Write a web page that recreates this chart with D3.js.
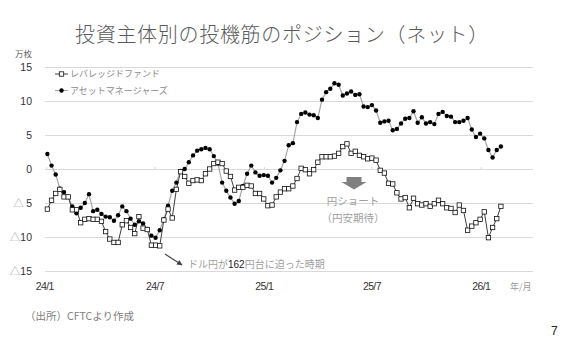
<!DOCTYPE html>
<html>
<head>
<meta charset="utf-8">
<script src="https://cdn.jsdelivr.net/npm/d3@7"></script>
<style>
  body { margin: 0; background: #fff; }
  svg { display: block; }
  .jp { font-family: "Noto Sans CJK JP", "Noto Sans", sans-serif; }
  .num { font-family: "Liberation Sans", Arial, sans-serif; }
</style>
</head>
<body>
<div id="chart"></div>
<script>
var width = 577
var height = 351

// weekly CFTC data, first week 2024/1/2
var startDate = new Date(2024, 0, 2)

// asset managers (filled dots), 万枚
var assetManagers = [
  2.2, 0.5, -0.8, -2.9, -3.4, -4.1, -5.5, -6.5, -5.7, -5.0,
  -3.7, -6.2, -6.0, -6.6, -7.0, -7.1, -7.6, -6.8, -5.5, -6.2,
  -7.3, -8.2, -7.7, -8.0, -8.8, -9.8, -10.1, -9.0, -7.4, -5.4,
  -3.2, -2.0, -0.3, 0.0, 1.0, 2.0, 2.7, 2.9, 3.1, 2.9,
  1.9, 0.8, -2.0, -3.2, -4.2, -5.1, -4.7, -2.5, -0.7, 0.5,
  -0.5, -1.0, -0.9, -1.0, -2.0, -1.3, -0.2, 1.2, 3.5, 3.8,
  6.9, 8.1, 8.3, 8.0, 7.9, 7.5, 10.2, 11.3, 11.8, 12.6,
  12.4, 10.8, 11.1, 11.4, 10.9, 11.0, 9.2, 9.1, 9.4, 8.6,
  6.8, 7.0, 7.1, 5.7, 5.9, 6.7, 7.4, 7.5, 8.5, 6.8,
  7.6, 6.7, 6.9, 6.6, 8.1, 8.4, 7.8, 7.7, 6.9, 6.9,
  7.1, 7.5, 5.8, 4.7, 5.2, 4.5, 2.8, 1.7, 2.8, 3.3
]

// leveraged funds (open squares), 万枚
var leveragedFunds = [
  -5.9, -4.6, -3.6, -3.0, -4.1, -4.1, -6.0, -6.0, -7.9, -7.4,
  -7.3, -7.4, -7.4, -7.7, -9.2, -10.3, -10.8, -10.8, -8.2, -7.6,
  -8.6, -9.5, -7.0, -8.7, -8.9, -11.2, -11.2, -11.3, -7.5, -5.9,
  -7.2, -3.0, -0.4, -1.1, -2.1, -1.7, -1.6, -1.7, -0.7, 0.0,
  0.8, 1.0, 0.8, -0.3, -1.1, -3.1, -2.7, -2.7, -2.4, -2.5,
  -3.6, -3.6, -4.4, -5.4, -5.3, -4.1, -3.4, -2.9, -2.9, -2.5,
  -1.4, 0.1, -0.1, -0.7, -0.1, 1.0, 1.8, 1.8, 1.8, 1.9,
  2.3, 3.3, 3.7, 2.3, 2.6, 2.0, 1.8, 1.5, 1.6, 1.3,
  -0.2, -0.6, -2.1, -2.2, -3.5, -4.4, -4.2, -5.7, -4.3, -5.1,
  -5.3, -5.1, -5.5, -5.1, -4.6, -5.1, -5.7, -5.8, -6.4, -5.3,
  -6.1, -9.0, -8.4, -7.9, -7.4, -6.3, -10.1, -8.6, -7.3, -5.5
]

var seriesNames = ["レバレッジドファンド", "アセットマネージャーズ"]
var yTicks = [15, 10, 5, 0, -5, -10, -15]
var xTickDates = [new Date(2024, 0, 1), new Date(2024, 6, 1), new Date(2025, 0, 1), new Date(2025, 6, 1), new Date(2026, 0, 1)]
var xTickLabels = ["24/1", "24/7", "25/1", "25/7", "26/1"]

var dates = assetManagers.map((d, i) => d3.timeDay.offset(startDate, i * 7))

var svg = d3.select("#chart")
  .append("svg")
  .attr("width", width)
  .attr("height", height)

// scales
var xScale = d3.scaleTime()
  .domain([new Date(2023, 11, 29), new Date(2026, 2, 29)])
  .range([45, 533])

var yScale = d3.scaleLinear()
  .domain([-15, 15])
  .range([271, 67])

// title
svg.append("text")
  .attr("class", "jp")
  .attr("x", 282)
  .attr("y", 42)
  .attr("text-anchor", "middle")
  .style("font-size", "20px")
  .style("letter-spacing", "0.7px")
  .style("fill", "#5a5a5a")
  .style("font-weight", 300)
  .text("投資主体別の投機筋のポジション（ネット）")

svg.append("text")
  .attr("class", "jp")
  .attr("x", 15)
  .attr("y", 57)
  .style("font-size", "8.5px")
  .style("fill", "#666")
  .text("万枚")

// grid
var yGrid = d3.axisLeft(yScale)
  .tickValues(yTicks)
  .tickSize(-(533 - 45))
  .tickFormat("")

svg.append("g")
  .attr("transform", "translate(45,0)")
  .attr("class", "grid")
  .call(yGrid)
  .call(g => g.select(".domain").remove())
  .selectAll("line")
  .style("stroke", "#d9d9d9")

// faint tick marks on the zero line
svg.append("g")
  .selectAll("line")
  .data(xTickDates)
  .enter()
  .append("line")
  .attr("x1", d => xScale(d))
  .attr("x2", d => xScale(d))
  .attr("y1", yScale(0) - 2)
  .attr("y2", yScale(0) + 1)
  .style("stroke", "#d9d9d9")

// y labels, negatives shown with △
var yLabels = svg.append("g")
  .selectAll("text")
  .data(yTicks)
  .enter()
  .append("text")
  .attr("class", "num")
  .attr("x", 32)
  .attr("y", d => yScale(d) + 4)
  .attr("text-anchor", "end")
  .style("font-size", "10.5px")
  .style("fill", "#333")

yLabels.filter(d => d < 0)
  .append("tspan")
  .attr("class", "jp")
  .style("fill", "#aaa")
  .text(d => d === -5 ? "△ " : "△")

yLabels.append("tspan")
  .text(d => Math.abs(d))

// x labels
svg.append("g")
  .selectAll("text")
  .data(xTickDates)
  .enter()
  .append("text")
  .attr("class", "num")
  .attr("x", (d, i) => xScale(d) + (i === 0 ? -2 : 0))
  .attr("y", 290)
  .attr("text-anchor", "middle")
  .style("font-size", "10.5px")
  .style("letter-spacing", "-0.6px")
  .style("fill", "#333")
  .text((d, i) => xTickLabels[i])

svg.append("text")
  .attr("class", "jp")
  .attr("x", 510)
  .attr("y", 290)
  .style("font-size", "9px")
  .style("fill", "#999")
  .text("年/月")

// lines
var line = d3.line()
  .x((d, i) => xScale(dates[i]))
  .y(d => yScale(d))

svg.append("path")
  .datum(assetManagers)
  .attr("d", line)
  .attr("fill", "none")
  .style("stroke", "#a6a6a6")
  .style("stroke-width", 1.2)

svg.append("path")
  .datum(leveragedFunds)
  .attr("d", line)
  .attr("fill", "none")
  .style("stroke", "#404040")
  .style("stroke-width", 1)

svg.append("g")
  .selectAll("circle")
  .data(assetManagers)
  .enter()
  .append("circle")
  .attr("cx", (d, i) => xScale(dates[i]))
  .attr("cy", d => yScale(d))
  .attr("r", 2.2)
  .style("fill", "#000")

svg.append("g")
  .selectAll("rect")
  .data(leveragedFunds)
  .enter()
  .append("rect")
  .attr("x", (d, i) => xScale(dates[i]) - 2.2)
  .attr("y", d => yScale(d) - 2.2)
  .attr("width", 4.4)
  .attr("height", 4.4)
  .style("fill", "#fff")
  .style("stroke", "#111")
  .style("stroke-width", 0.8)

// legend
var legend = svg.append("g")
  .selectAll("g")
  .data(seriesNames)
  .enter()
  .append("g")
  .attr("transform", (d, i) => `translate(55,${74 + i * 16.5})`)

legend.append("line")
  .attr("x1", 0)
  .attr("x2", 13)
  .style("stroke", (d, i) => i === 0 ? "#404040" : "#a6a6a6")

legend.filter((d, i) => i === 0)
  .append("rect")
  .attr("x", 4.3)
  .attr("y", -2.2)
  .attr("width", 4.4)
  .attr("height", 4.4)
  .style("fill", "#fff")
  .style("stroke", "#111")
  .style("stroke-width", 0.8)

legend.filter((d, i) => i === 1)
  .append("circle")
  .attr("cx", 6.5)
  .attr("r", 2.2)
  .style("fill", "#000")

legend.append("text")
  .attr("class", "jp")
  .attr("x", 15)
  .attr("y", 3.3)
  .style("font-size", "9px")
  .style("fill", "#8c8c8c")
  .text(d => d)

// annotation: yen short arrow
svg.append("path")
  .attr("d", "M346.5,177 H361.5 V182 H366.5 L354,189.5 L341.5,182 H346.5 Z")
  .style("fill", "#808080")

svg.append("text")
  .attr("class", "jp")
  .attr("x", 353)
  .attr("y", 205)
  .attr("text-anchor", "middle")
  .style("font-size", "10.5px")
  .style("fill", "#a0a0a0")
  .text("円ショート")

svg.append("text")
  .attr("class", "jp")
  .attr("x", 353)
  .attr("y", 222)
  .attr("text-anchor", "middle")
  .style("font-size", "10.5px")
  .style("fill", "#a0a0a0")
  .text("（円安期待）")

// annotation: dollar yen 162
svg.append("defs")
  .append("marker")
  .attr("id", "arrow")
  .attr("viewBox", "0 0 10 10")
  .attr("refX", 9)
  .attr("refY", 5)
  .attr("markerWidth", 5)
  .attr("markerHeight", 5)
  .attr("orient", "auto")
  .append("path")
  .attr("d", "M0,0 L10,5 L0,10 Z")
  .style("fill", "#404040")

svg.append("line")
  .attr("x1", 165)
  .attr("y1", 254)
  .attr("x2", 182)
  .attr("y2", 265)
  .style("stroke", "#404040")
  .style("stroke-width", 1.1)
  .attr("marker-end", "url(#arrow)")

var note = svg.append("text")
  .attr("class", "jp")
  .attr("x", 188)
  .attr("y", 268)
  .style("font-size", "10px")
  .style("fill", "#a0a0a0")

note.append("tspan").text("ドル円が")
note.append("tspan").attr("class", "num").style("fill", "#222").text("162")
note.append("tspan").text("円台に迫った時期")

// source and page number
svg.append("text")
  .attr("class", "jp")
  .attr("x", 25)
  .attr("y", 320)
  .style("font-size", "10.5px")
  .style("fill", "#808080")
  .text("（出所）CFTCより作成")

svg.append("text")
  .attr("class", "num")
  .attr("x", 551)
  .attr("y", 335)
  .style("font-size", "12px")
  .style("fill", "#222")
  .text("7")
</script>
</body>
</html>
